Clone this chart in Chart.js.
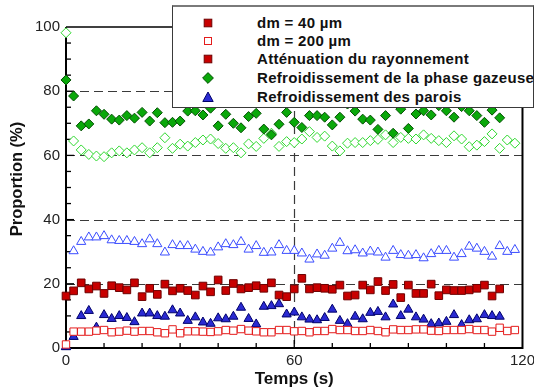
<!DOCTYPE html>
<html>
<head>
<meta charset="utf-8">
<script src="https://cdn.jsdelivr.net/npm/chart.js@4.4.1/dist/chart.umd.min.js"></script>
<style>
html,body{margin:0;padding:0;background:#fff;overflow:hidden;}
#wrap{position:relative;width:534px;height:392px;overflow:hidden;}
#c{position:absolute;left:0;top:0;}
#legend{position:absolute;left:172px;top:5px;width:360px;height:100px;background:#fff;
  border-top:2px solid #7a7a7a;border-left:1px solid #3a3a3a;border-bottom:1px solid #3a3a3a;border-right:1px solid #3a3a3a;
  font:bold 15px "Liberation Sans",Arial,sans-serif;color:#111;letter-spacing:0.3px;}
.row{position:absolute;left:0;height:18px;line-height:18px;white-space:nowrap;}
.row svg{position:absolute;left:28px;top:2px;}
.row span{position:absolute;left:84px;top:0;}
</style>
</head>
<body>
<div id="wrap">
<canvas id="c" width="539" height="392"></canvas>
<div id="legend"></div>
</div>
<script>
// ---- data ----
const times40 = [0,2,4,6,8,10,12,14,16,18,20,22,24,26,28,30,32,34,36,38,40,42,44,46,48,50,52,54,56,58,60,62,64,66,68,70,72,74,76,78,80,82,84,86,88,90,92,94,96,98,100,102,104,106,108,110,112,114];
const times200 = [0,2,4,6,8,10,12,14,16,18,20,22,24,26,28,30,32,34,36,38,40,42,44,46,48,50,52,54,56,58,60,62,64,66,68,70,72,74,76,78,80,82,84,86,88,90,92,94,96,98,100,102,104,106,108,110,112,114,116,118];

// dm = 40 µm (filled markers)
const atten40 = [16.2,17.8,20.3,18.4,19.3,17.0,19.4,18.8,18.1,20.3,16.0,18.6,16.7,19.9,17.8,18.6,17.9,16.5,19.3,17.5,21.2,17.9,20.1,18.4,18.8,19.4,18.6,20.3,16.5,16.0,18.4,21.7,18.4,18.8,18.6,18.3,19.6,16.2,16.5,19.6,18.1,20.7,17.9,19.8,15.7,19.6,17.0,17.0,19.9,16.3,18.1,17.9,17.9,18.1,18.6,19.6,16.2,18.4];
const gas40 = [83.5,78.5,69.2,69.8,73.9,72.8,71.3,71.0,72.4,71.6,73.4,70.7,73.3,70.2,70.3,70.7,73.8,73.9,72.6,74.7,69.2,72.8,70.0,68.6,72.1,73.1,68.2,66.4,69.7,73.4,70.3,68.7,72.4,72.4,71.9,69.5,71.9,76.0,73.8,71.3,71.0,68.1,72.4,66.9,74.4,68.4,72.9,73.9,72.6,75.5,73.9,71.9,75.2,73.9,72.4,70.3,74.1,71.7];
const walls40 = [0.3,3.5,10.0,11.6,6.4,10.3,9.1,10.0,9.4,8.1,10.8,10.8,10.0,9.8,11.8,10.8,8.5,9.6,8.0,7.6,9.3,9.0,9.8,12.6,9.1,7.4,12.9,13.1,13.7,10.5,11.1,9.6,8.9,8.7,9.4,12.0,8.5,7.5,9.8,9.0,11.0,11.3,9.6,13.6,10.0,12.0,9.6,8.9,7.5,7.7,8.2,10.3,7.2,8.7,9.0,10.3,10.0,9.8];

// dm = 200 µm (hollow markers)
const atten200 = [1.1,5.1,5.1,5.1,5.4,5.6,4.9,5.1,5.4,5.1,5.3,5.3,4.9,4.6,5.8,4.6,5.2,5.2,5.1,5.0,5.2,5.6,5.4,5.9,5.4,5.2,4.9,4.9,5.6,5.6,5.2,5.3,4.9,5.3,5.3,5.9,5.6,5.6,5.3,5.3,5.6,5.3,4.9,5.8,5.6,5.6,5.8,5.8,5.4,5.3,5.6,5.6,5.6,5.9,5.6,5.6,5.1,6.3,5.3,5.6];
const gas200 = [98.2,64.5,61.7,60.3,59.8,59.6,60.8,61.4,60.8,61.7,62.4,60.8,62.4,65.5,62.2,63.5,62.9,64.0,64.8,65.1,63.7,62.2,62.4,60.8,63.6,62.8,65.3,66.9,62.8,64.3,64.0,65.1,67.4,65.6,66.0,62.9,61.4,63.8,64.0,64.0,64.6,65.0,66.4,64.0,65.6,65.3,65.1,66.4,65.3,64.6,64.0,66.1,65.1,62.7,63.2,64.3,66.7,62.2,64.8,63.8];
const walls200 = [0.4,30.2,33.1,34.5,34.5,34.9,33.6,33.4,33.4,33.1,32.4,33.9,32.4,29.8,32.1,31.8,31.8,30.7,30.0,29.8,31.4,32.4,32.1,33.1,30.7,31.8,29.7,29.8,32.1,30.3,30.3,29.5,27.6,29.2,28.8,31.0,32.8,30.2,30.5,29.5,30.1,29.8,28.2,30.3,29.0,28.8,29.0,28.0,29.3,30.3,30.3,28.2,29.3,31.6,31.0,30.0,28.5,31.8,30.0,30.6];

const xTickLabels = [0, 60, 120];
const yTickLabels = [0, 20, 40, 60, 80, 100];
const gridY = [20, 40, 60, 80];
const gridX = [60];
const xTitle = 'Temps (s)';
const yTitle = 'Proportion (%)';
const legendLabels = ['dm = 40 µm', 'dm = 200 µm', 'Atténuation du rayonnement', 'Refroidissement de la phase gazeuse', 'Refroidissement des parois'];
const legendMarkers = ['sqFilled', 'sqHollow', 'sqFilled', 'diamond', 'triangle'];

// ---- styles ----
const C = {
  redFill: '#c80000', redEdge: '#6e0000', redHollow: '#e41c1c',
  greenFill: '#0aa80a', greenEdge: '#035003', greenHollow: '#2ed82e',
  blueFill: '#2a2ad2', blueEdge: '#00006a', blueHollow: '#3a4cff'
};
const FONT = '"Liberation Sans", Arial, sans-serif';

function pts(t, v) { return v.map((y, i) => ({ x: t[i], y: y })); }

// ---- legend (HTML overlay, real text) ----
(function () {
  const svgs = {
    sqFilled: '<svg width="14" height="14"><rect x="3.2" y="3.2" width="7.6" height="7.6" fill="' + C.redFill + '" stroke="' + C.redEdge + '" stroke-width="1"/></svg>',
    sqHollow: '<svg width="14" height="14"><rect x="3.5" y="3.5" width="7" height="7" fill="#fff" stroke="' + C.redHollow + '" stroke-width="1"/></svg>',
    diamond: '<svg width="14" height="14"><polygon points="7,1.6 12.4,7 7,12.4 1.6,7" fill="' + C.greenFill + '" stroke="' + C.greenEdge + '" stroke-width="1"/></svg>',
    triangle: '<svg width="14" height="14"><polygon points="7,2 12.2,11.5 1.8,11.5" fill="' + C.blueFill + '" stroke="' + C.blueEdge + '" stroke-width="1"/></svg>'
  };
  const lg = document.getElementById('legend');
  const centers = [15.5, 34.2, 52.2, 70.8, 89.5];
  legendLabels.forEach((txt, i) => {
    const r = document.createElement('div');
    r.className = 'row';
    r.style.top = (centers[i] - 9) + 'px';
    r.innerHTML = svgs[legendMarkers[i]];
    const s = document.createElement('span');
    s.textContent = txt;
    r.appendChild(s);
    lg.appendChild(r);
  });
})();

// ---- frame / grid / inner ticks / y title ----
const framePlugin = {
  id: 'framePlugin',
  beforeDatasetsDraw(chart) {
    const ctx = chart.ctx, a = chart.chartArea, xs = chart.scales.x, ys = chart.scales.y;
    ctx.save();
    ctx.strokeStyle = '#3a3a3a';
    ctx.lineWidth = 1.2;
    ctx.setLineDash([9, 5]);
    gridY.forEach(v => {
      const py = Math.round(ys.getPixelForValue(v)) + 0.5;
      ctx.beginPath(); ctx.moveTo(a.left, py); ctx.lineTo(a.right, py); ctx.stroke();
    });
    gridX.forEach(v => {
      const px = Math.round(xs.getPixelForValue(v)) + 0.5;
      ctx.beginPath(); ctx.moveTo(px, a.top); ctx.lineTo(px, a.bottom); ctx.stroke();
    });
    ctx.setLineDash([]);
    ctx.strokeStyle = '#000';
    // inner tick marks
    ctx.lineWidth = 1.3;
    for (let v = 5; v < 100; v += 5) {
      const py = ys.getPixelForValue(v);
      const len = (v % 20 === 0) ? 8 : 5;
      ctx.beginPath(); ctx.moveTo(a.left, py); ctx.lineTo(a.left + len, py); ctx.stroke();
    }
    for (let v = 10; v < 120; v += 10) {
      const px = xs.getPixelForValue(v);
      const len = (v % 60 === 0) ? 8 : 5;
      ctx.beginPath(); ctx.moveTo(px, a.bottom); ctx.lineTo(px, a.bottom - len); ctx.stroke();
    }
    // frame
    ctx.lineWidth = 2;
    ctx.beginPath();
    ctx.moveTo(a.left, a.top); ctx.lineTo(a.left, a.bottom); ctx.lineTo(a.right, a.bottom); ctx.lineTo(a.right, a.top);
    ctx.stroke();
    ctx.lineWidth = 1.5;
    ctx.beginPath(); ctx.moveTo(a.left, a.top); ctx.lineTo(a.right, a.top); ctx.stroke();
    ctx.restore();
  },
  afterDraw(chart) {
    const ctx = chart.ctx, ys = chart.scales.y;
    ctx.save();
    ctx.translate(17, (ys.getPixelForValue(100) + ys.getPixelForValue(0)) / 2 - 8.5);
    ctx.rotate(-Math.PI / 2);
    ctx.font = 'bold 16.5px ' + FONT;
    ctx.fillStyle = '#111';
    ctx.textAlign = 'center';
    ctx.textBaseline = 'middle';
    ctx.fillText(yTitle, 0, 0);
    ctx.restore();
  }
};

const common = { showLine: false, clip: false, pointBorderWidth: 1, pointHoverRadius: 5 };

new Chart(document.getElementById('c'), {
  type: 'scatter',
  data: {
    datasets: [
      Object.assign({ label: 'Atténuation du rayonnement, dm = 200 µm', data: pts(times200, atten200), pointStyle: 'rect', pointRadius: 5.2, backgroundColor: '#fff', borderColor: C.redHollow }, common),
      Object.assign({ label: 'Refroidissement de la phase gazeuse, dm = 40 µm', data: pts(times40, gas40), pointStyle: 'rectRot', pointRadius: 5, backgroundColor: C.greenFill, borderColor: C.greenEdge }, common),
      Object.assign({ label: 'Refroidissement de la phase gazeuse, dm = 200 µm', data: pts(times200, gas200), pointStyle: 'rectRot', pointRadius: 5, backgroundColor: '#fff', borderColor: C.greenHollow }, common),
      Object.assign({ label: 'Atténuation du rayonnement, dm = 40 µm', data: pts(times40, atten40), pointStyle: 'rect', pointRadius: 5.4, backgroundColor: C.redFill, borderColor: C.redEdge }, common),
      Object.assign({ label: 'Refroidissement des parois, dm = 40 µm', data: pts(times40, walls40), pointStyle: 'triangle', pointRadius: 5.3, backgroundColor: C.blueFill, borderColor: C.blueEdge }, common),
      Object.assign({ label: 'Refroidissement des parois, dm = 200 µm', data: pts(times200, walls200), pointStyle: 'triangle', pointRadius: 5.3, backgroundColor: '#fff', borderColor: C.blueHollow }, common)
    ]
  },
  options: {
    responsive: false,
    animation: false,
    devicePixelRatio: 1,
    layout: { padding: { left: 0, right: 0, top: 27, bottom: 0 } },
    plugins: { legend: { display: false }, tooltip: { enabled: false } },
    scales: {
      x: {
        type: 'linear', min: 0, max: 120,
        afterFit(s) { s.height = 44; },
        border: { display: false },
        grid: { display: true, drawOnChartArea: false, drawTicks: false, color: 'rgba(0,0,0,0)' },
        ticks: {
          stepSize: 10, autoSkip: false, maxRotation: 0, padding: 4,
          color: '#222', font: { family: FONT, size: 15 },
          callback: v => xTickLabels.includes(v) ? String(v) : ''
        },
        title: { display: true, text: xTitle, color: '#111', font: { family: FONT, size: 17, weight: 'bold' }, padding: { top: 0, bottom: 2 } }
      },
      y: {
        type: 'linear', min: 0, max: 100,
        afterFit(s) { s.width = 66; },
        border: { display: false },
        grid: { display: true, drawOnChartArea: false, drawTicks: false, color: 'rgba(0,0,0,0)' },
        ticks: {
          stepSize: 5, autoSkip: false, padding: 6,
          color: '#222', font: { family: FONT, size: 15 },
          callback: v => yTickLabels.includes(v) ? String(v) : ''
        },
        title: { display: false, text: yTitle }
      }
    }
  },
  plugins: [framePlugin]
});
</script>
</body>
</html>
